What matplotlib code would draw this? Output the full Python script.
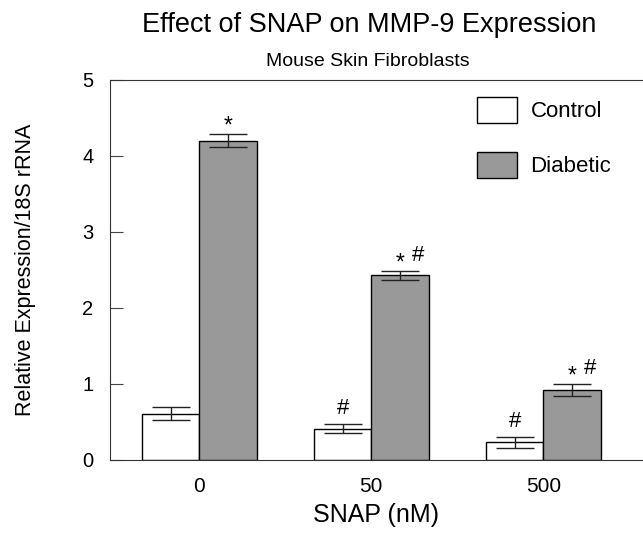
import numpy as np
import matplotlib
matplotlib.use("Agg")
import matplotlib.pyplot as plt
from matplotlib.patches import Patch

plt.rcParams["font.family"] = ["Liberation Sans", "DejaVu Sans"]

doses = ["0", "50", "500"]
control = [0.61, 0.41, 0.23]
control_err = [0.08, 0.06, 0.07]
diabetic = [4.20, 2.43, 0.92]
diabetic_err = [0.09, 0.06, 0.08]
# significance marks: star = vs control, hash = vs 0 nM
control_star = [False, False, False]
control_hash = [False, True, True]
diabetic_star = [True, True, True]
diabetic_hash = [False, True, True]

x = np.arange(len(doses))
w = 0.333

fig = plt.figure(figsize=(6.43, 5.43), dpi=100)
ax = fig.add_axes([0.171, 0.153, 0.829, 0.70])

ekw = dict(ecolor="#222222", elinewidth=1, capsize=14, capthick=1)
ax.bar(x - w / 2, control, w, yerr=control_err, color="white", edgecolor="black",
       linewidth=1, error_kw=ekw)
ax.bar(x + w / 2, diabetic, w, yerr=diabetic_err, color="#999999", edgecolor="black",
       linewidth=1, error_kw=ekw)


def marks(xc, top, star, hsh):
    if star:
        ax.text(xc, top + 0.02, "*", ha="center", va="baseline", fontsize=16.5)
    if hsh:
        ax.text(xc + (0.108 if star else 0), top + 0.13, "#", ha="center",
                va="baseline", fontsize=16)


for i in range(len(doses)):
    marks(x[i] - w / 2, control[i] + control_err[i], control_star[i], control_hash[i])
    marks(x[i] + w / 2, diabetic[i] + diabetic_err[i], diabetic_star[i], diabetic_hash[i])

ax.set_xlim(-0.52, 2.58)
ax.set_ylim(0, 5)
ax.set_xticks(x)
ax.set_xticklabels(doses, fontsize=15)
ax.set_yticks(range(6))
ax.tick_params(axis="y", direction="in", length=9, labelsize=14.5, pad=12, color="#444444")
ax.tick_params(axis="x", length=0, pad=12)
ax.spines["right"].set_visible(False)
for s in ["left", "top", "bottom"]:
    ax.spines[s].set_color("#333333")
ax.set_xlabel("SNAP (nM)", fontsize=18, labelpad=5)
ax.set_ylabel("Relative Expression/18S rRNA", fontsize=15.5, labelpad=33)

ax.legend(handles=[Patch(facecolor="white", edgecolor="black", label="Control"),
                   Patch(facecolor="#999999", edgecolor="black", label="Diabetic")],
          loc="upper left", bbox_to_anchor=(0.689, 0.955), frameon=False, fontsize=16,
          handlelength=1.8, handleheight=1.4, labelspacing=1.33, handletextpad=0.6,
          borderpad=0, borderaxespad=0)

fig.text(0.574, 0.954, "Effect of SNAP on MMP-9 Expression", ha="center", va="center", fontsize=19.5)
fig.text(0.572, 0.886, "Mouse Skin Fibroblasts", ha="center", va="center", fontsize=14)

fig.savefig("out.png", dpi=100)
